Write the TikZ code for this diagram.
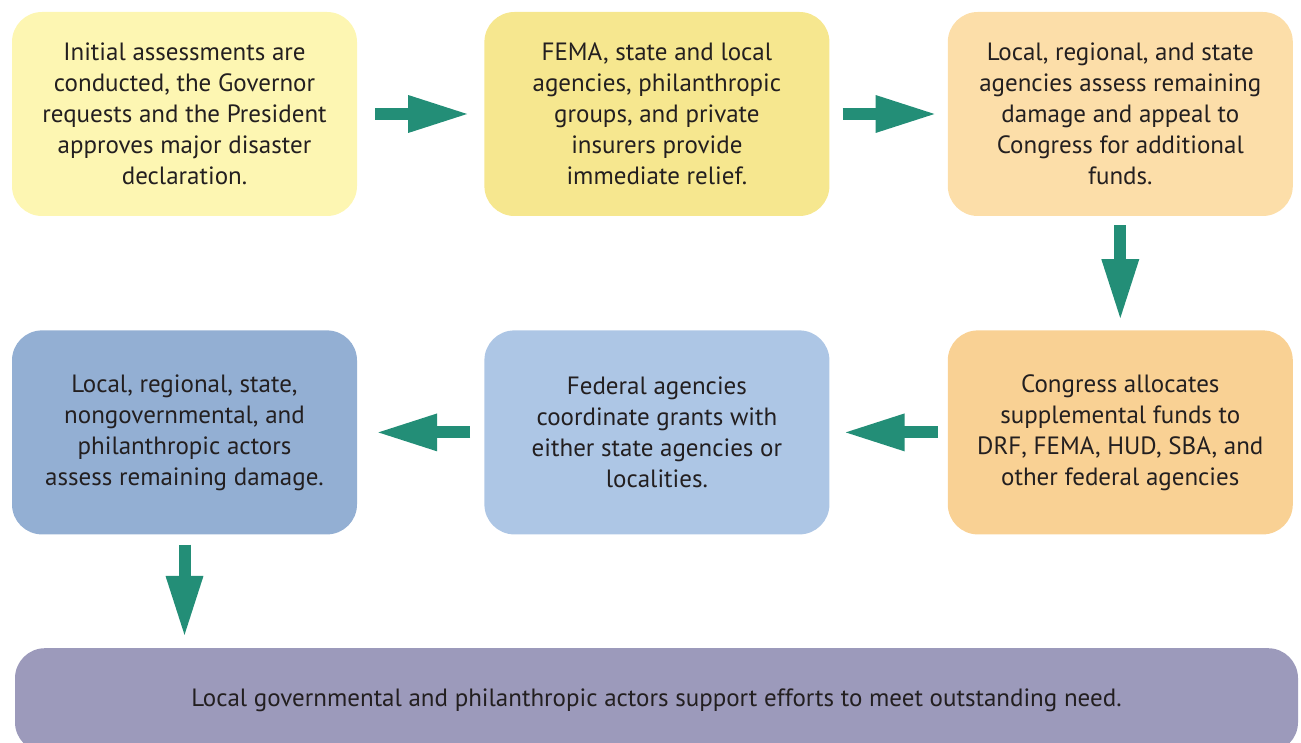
\documentclass[tikz,border=0pt]{standalone}
\usepackage{fontspec}
\setmainfont{PT Sans}
\usetikzlibrary{positioning,arrows.meta}

\definecolor{stageA}{HTML}{FDF6B2}
\definecolor{stageB}{HTML}{F6E78F}
\definecolor{stageC}{HTML}{FCDEA9}
\definecolor{stageD}{HTML}{F9D194}
\definecolor{stageE}{HTML}{ADC6E5}
\definecolor{stageF}{HTML}{93AFD3}
\definecolor{stageG}{HTML}{9C9ABB}
\definecolor{flowgreen}{HTML}{238E77}
\definecolor{txtgray}{HTML}{231F20}

\begin{document}
\begin{tikzpicture}[x=1pt,y=1pt,
    stage/.style={rounded corners=30pt, minimum width=345pt, minimum height=204pt,
      inner sep=0pt, align=center, text=txtgray, font=\fontsize{25}{31}\selectfont},
    flow/.style={draw=flowgreen, line width=12pt, -{Triangle[length=62pt,width=34pt]}}]
  \useasboundingbox (0,0) rectangle (1301,742);
  % top row
  \node[stage, fill=stageA] (declare) at (184.5,628) {Initial assessments are\\conducted, the Governor\\requests and the President\\approves major disaster\\declaration.};
  \node[stage, fill=stageB, right=127pt of declare] (relief) {FEMA, state and local\\agencies, philanthropic\\groups, and private\\insurers provide\\immediate relief.};
  \node[stage, fill=stageC, right=118pt of relief] (appeal) {Local, regional, and state\\agencies assess remaining\\damage and appeal to\\Congress for additional\\funds.};
  % second row
  \node[stage, fill=stageD, below=114pt of appeal] (allocate) {Congress allocates\\supplemental funds to\\DRF, FEMA, HUD, SBA, and\\other federal agencies};
  \node[stage, fill=stageE, left=118pt of allocate] (grants) {Federal agencies\\coordinate grants with\\either state agencies or\\localities.};
  \node[stage, fill=stageF, left=127pt of grants] (damage) {Local, regional, state,\\nongovernmental, and\\philanthropic actors\\assess remaining damage.};
  % bottom
  \node[stage, fill=stageG, minimum width=1283pt, minimum height=104pt, anchor=north] (support) at (656.5,94) {Local governmental and philanthropic actors support efforts to meet outstanding need.};
  \draw[flow, shorten <=18pt, shorten >=14pt] (declare) -- (relief);
  \draw[flow, shorten <=13pt, shorten >=10pt] (relief) -- (appeal);
  \draw[flow, shorten <=9pt, shorten >=9pt] (appeal) -- (allocate);
  \draw[flow, shorten <=10pt, shorten >=13pt] (allocate) -- (grants);
  \draw[flow, shorten <=14pt, shorten >=18pt] (grants) -- (damage);
  \draw[flow, shorten <=10pt, shorten >=10pt] (damage) -- (damage.south |- support.north);
\end{tikzpicture}
\end{document}
